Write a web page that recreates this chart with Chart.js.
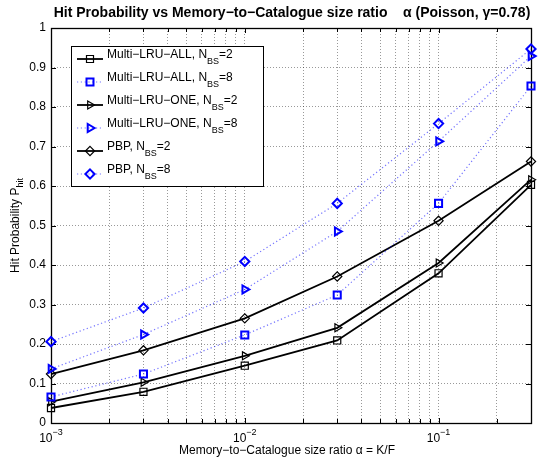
<!DOCTYPE html>
<html lang="en">
<head>
<meta charset="utf-8">
<title>Hit Probability vs Memory-to-Catalogue size ratio</title>
<script src="https://cdn.jsdelivr.net/npm/chart.js@4.4.1/dist/chart.umd.min.js"></script>
<style>
  html, body { margin: 0; padding: 0; background: #fff; }
  #wrap { width: 538px; height: 458px; }
</style>
</head>
<body>
<div id="wrap"><canvas id="hitChart" width="538" height="458"></canvas></div>
<script>
// memory-to-catalogue size ratio K/F
var ratios = [0.001, 0.003, 0.01, 0.03, 0.1, 0.3];

// hit probability
var lruAll2 = [0.038, 0.079, 0.145, 0.209, 0.379, 0.603];
var lruAll8 = [0.066, 0.124, 0.223, 0.324, 0.556, 0.853];
var lruOne2 = [0.054, 0.103, 0.170, 0.241, 0.405, 0.616];
var lruOne8 = [0.137, 0.224, 0.338, 0.485, 0.713, 0.929];
var pbp2 = [0.124, 0.184, 0.265, 0.371, 0.512, 0.662];
var pbp8 = [0.206, 0.291, 0.409, 0.556, 0.758, 0.947];

var yTickLabels = ['0', '0.1', '0.2', '0.3', '0.4', '0.5', '0.6', '0.7', '0.8', '0.9', '1'];
var xDecades = [0.001, 0.01, 0.1];
var xDecadeExp = ['\u22123', '\u22122', '\u22121'];

var FONT = '"Liberation Sans", Arial, Helvetica, sans-serif';
var BLUE = '#0000ff';
var BLUE_DOT = 'rgba(0,0,255,0.55)';

function pts(ys) {
  return ys.map(function (v, i) { return { x: ratios[i], y: v }; });
}

// legend entries: text before the subscript, text after it, style
var legendItems = [
  { txt: 'Multi\u2212LRU\u2212ALL, N', tail: '=2', blue: false, mk: 'square' },
  { txt: 'Multi\u2212LRU\u2212ALL, N', tail: '=8', blue: true, mk: 'square' },
  { txt: 'Multi\u2212LRU\u2212ONE, N', tail: '=2', blue: false, mk: 'tri' },
  { txt: 'Multi\u2212LRU\u2212ONE, N', tail: '=8', blue: true, mk: 'tri' },
  { txt: 'PBP, N', tail: '=2', blue: false, mk: 'diamond' },
  { txt: 'PBP, N', tail: '=8', blue: true, mk: 'diamond' }
];

function mkSet(label, ys, blue, style) {
  var ds = {
    label: label,
    data: pts(ys),
    borderColor: blue ? BLUE_DOT : '#000',
    borderWidth: blue ? 1.2 : 1.8,
    borderDash: blue ? [1.2, 2.6] : [],
    pointBorderColor: blue ? BLUE : '#000',
    pointBackgroundColor: 'rgba(0,0,0,0)',
    pointBorderWidth: blue ? 2 : 1.2,
    pointStyle: style,
    pointRadius: 5,
    pointRotation: 0,
    tension: 0,
    fill: false,
    clip: false
  };
  if (style === 'triangle') { ds.pointRotation = 90; ds.pointRadius = 4.6; }
  if (style === 'rectRot') { ds.pointRadius = 4.6; }
  return ds;
}

function drawMarker(ctx, kind, x, y) {
  ctx.beginPath();
  if (kind === 'square') {
    ctx.rect(x - 3.5, y - 3.5, 7, 7);
  } else if (kind === 'tri') {
    ctx.moveTo(x + 4.6, y);
    ctx.lineTo(x - 2.3, y - 4);
    ctx.lineTo(x - 2.3, y + 4);
    ctx.closePath();
  } else {
    ctx.moveTo(x, y - 4.6);
    ctx.lineTo(x + 4.6, y);
    ctx.lineTo(x, y + 4.6);
    ctx.lineTo(x - 4.6, y);
    ctx.closePath();
  }
  ctx.stroke();
}

var decor = {
  id: 'decor',
  beforeDatasetsDraw: function (chart) {
    var ctx = chart.ctx, a = chart.chartArea;
    var xs = chart.scales.x, ys = chart.scales.y;
    ctx.save();
    ctx.strokeStyle = '#000';
    ctx.lineWidth = 1;
    ctx.setLineDash([]);
    // inward tick marks
    ctx.beginPath();
    xs.ticks.forEach(function (t) {
      var px = Math.round(xs.getPixelForValue(t.value)) + 0.5;
      var len = xDecades.indexOf(t.value) >= 0 ? 5 : 4;
      ctx.moveTo(px, a.bottom); ctx.lineTo(px, a.bottom - len);
      ctx.moveTo(px, a.top); ctx.lineTo(px, a.top + len);
    });
    ys.ticks.forEach(function (t) {
      var py = Math.round(ys.getPixelForValue(t.value)) + 0.5;
      ctx.moveTo(a.left, py); ctx.lineTo(a.left + 5, py);
      ctx.moveTo(a.right, py); ctx.lineTo(a.right - 5, py);
    });
    ctx.stroke();
    // axes box
    ctx.lineWidth = 1.3;
    ctx.strokeRect(Math.round(a.left) + 0.5, Math.round(a.top) + 0.5,
      Math.round(a.right - a.left), Math.round(a.bottom - a.top));
    ctx.restore();
  },
  afterDraw: function (chart) {
    var ctx = chart.ctx, a = chart.chartArea;
    var xs = chart.scales.x;
    ctx.save();
    ctx.fillStyle = '#000';
    ctx.textBaseline = 'alphabetic';

    // title
    var title = 'Hit Probability vs Memory\u2212to\u2212Catalogue size ratio    \u03b1 (Poisson, \u03b3=0.78)';
    ctx.font = 'bold 14px ' + FONT;
    ctx.textAlign = 'center';
    ctx.fillText(title, (a.left + a.right) / 2 + 1, 17);

    // x tick labels 10^n
    xDecades.forEach(function (v, i) {
      var px = xs.getPixelForValue(v);
      ctx.textAlign = 'left';
      ctx.font = '12px ' + FONT;
      var wb = ctx.measureText('10').width;
      ctx.font = '9px ' + FONT;
      var we = ctx.measureText(xDecadeExp[i]).width;
      var sx = px - (wb + we) / 2;
      ctx.font = '12px ' + FONT;
      ctx.fillText('10', sx, 442);
      ctx.font = '9px ' + FONT;
      ctx.fillText(xDecadeExp[i], sx + wb, 435);
    });

    // x axis title
    ctx.font = '12px ' + FONT;
    ctx.textAlign = 'center';
    ctx.fillText('Memory\u2212to\u2212Catalogue size ratio \u03b1 = K/F', (a.left + a.right) / 2 - 4, 454);

    // y axis title with subscript
    ctx.save();
    ctx.translate(19, (a.top + a.bottom) / 2);
    ctx.rotate(-Math.PI / 2);
    ctx.textAlign = 'left';
    ctx.font = '12px ' + FONT;
    var ym = 'Hit Probability P';
    var wm = ctx.measureText(ym).width;
    ctx.font = '9px ' + FONT;
    var ws = ctx.measureText('hit').width;
    var sx0 = -(wm + ws) / 2;
    ctx.font = '12px ' + FONT;
    ctx.fillText(ym, sx0, 0);
    ctx.font = '9px ' + FONT;
    ctx.fillText('hit', sx0 + wm, 4);
    ctx.restore();

    // legend box
    var lx = 71, ly = 46, lw = 192, lh = 140;
    ctx.fillStyle = '#fff';
    ctx.fillRect(lx, ly, lw, lh);
    ctx.strokeStyle = '#000';
    ctx.lineWidth = 1;
    ctx.strokeRect(lx + 0.5, ly + 0.5, lw, lh);
    legendItems.forEach(function (it, i) {
      var y = 59 + i * 23;
      ctx.strokeStyle = it.blue ? BLUE_DOT : '#000';
      ctx.lineWidth = it.blue ? 1.2 : 1.8;
      ctx.setLineDash(it.blue ? [1.2, 2.6] : []);
      ctx.beginPath();
      ctx.moveTo(77, y); ctx.lineTo(103, y);
      ctx.stroke();
      ctx.setLineDash([]);
      ctx.strokeStyle = it.blue ? BLUE : '#000';
      ctx.lineWidth = it.blue ? 2 : 1.2;
      drawMarker(ctx, it.mk, 90, y);
      ctx.fillStyle = '#000';
      ctx.textAlign = 'left';
      ctx.font = '12px ' + FONT;
      var bx = 107, by = y - 1;
      ctx.fillText(it.txt, bx, by);
      bx += ctx.measureText(it.txt).width;
      ctx.font = '9px ' + FONT;
      ctx.fillText('BS', bx, by + 6);
      bx += ctx.measureText('BS').width;
      ctx.font = '12px ' + FONT;
      ctx.fillText(it.tail, bx, by);
    });
    ctx.restore();
  }
};

var gridOpts = { color: 'rgba(0,0,0,0.4)', lineWidth: 1, drawTicks: false };

new Chart(document.getElementById('hitChart'), {
  type: 'line',
  data: {
    datasets: [
      mkSet('Multi-LRU-ALL, NBS=2', lruAll2, false, 'rect'),
      mkSet('Multi-LRU-ALL, NBS=8', lruAll8, true, 'rect'),
      mkSet('Multi-LRU-ONE, NBS=2', lruOne2, false, 'triangle'),
      mkSet('Multi-LRU-ONE, NBS=8', lruOne8, true, 'triangle'),
      mkSet('PBP, NBS=2', pbp2, false, 'rectRot'),
      mkSet('PBP, NBS=8', pbp8, true, 'rectRot')
    ]
  },
  options: {
    responsive: false,
    animation: false,
    devicePixelRatio: 1,
    layout: { padding: { top: 28, right: 3, bottom: 0, left: 0 } },
    plugins: {
      legend: { display: false },
      title: { display: false },
      tooltip: { enabled: false }
    },
    scales: {
      x: {
        type: 'logarithmic',
        min: 0.001,
        max: 0.3,
        grid: gridOpts,
        border: { display: false, dash: [1, 2] },
        ticks: { display: false },
        afterBuildTicks: function (scale) {
          var t = [];
          xDecades.forEach(function (d) {
            for (var k = 1; k <= 9; k++) {
              var v = +(k * d).toPrecision(3);
              if (v <= 0.3 + 1e-9) t.push({ value: v });
            }
          });
          scale.ticks = t;
        },
        afterFit: function (scale) { scale.height = 35; }
      },
      y: {
        type: 'linear',
        min: 0,
        max: 1,
        grid: gridOpts,
        border: { display: false, dash: [1, 2] },
        ticks: {
          stepSize: 0.1,
          padding: 5,
          color: '#000',
          font: { family: FONT, size: 12 },
          callback: function (v) { return yTickLabels[Math.round(v * 10)]; }
        },
        afterFit: function (scale) { scale.width = 51; }
      }
    }
  },
  plugins: [decor]
});
</script>
</body>
</html>
